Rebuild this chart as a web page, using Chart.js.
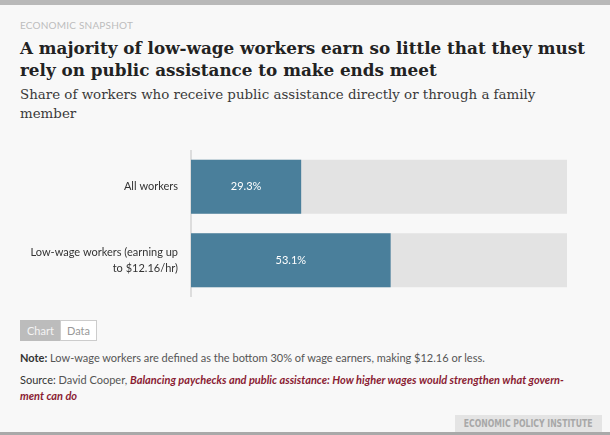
<!DOCTYPE html>
<html lang="en">
<head>
  <meta charset="UTF-8">
  <title>Public assistance share</title>
  <script src="https://cdn.jsdelivr.net/npm/chart.js"></script>
  <style>
    html, body { margin: 0; padding: 0; }
    body { width: 610px; height: 435px; background: #f8f8f8; position: relative; overflow: hidden; }
    .topbar { position: absolute; left: 0; top: 0; width: 610px; height: 5px; background: #b9b9b9; }
    .bottombar { position: absolute; left: 0; top: 432px; width: 610px; height: 3px; background: #a9a9a9; }
    .kicker { position: absolute; left: 20px; top: 19px; font: 10px "Lato", sans-serif; color: #bdbdbd; letter-spacing: 0.2px; }
    .title { position: absolute; left: 20px; top: 37px; width: 585px; font: bold 16.8px/22px "DejaVu Serif", serif; color: #222; }
    .subtitle { position: absolute; left: 20px; top: 85px; width: 560px; font: 13.4px/19px "DejaVu Serif", serif; color: #3a3a3a; }
    #wrap { position: absolute; left: 0; top: 150px; width: 567px; height: 147px; }
    .toggle { position: absolute; left: 20px; top: 320px; height: 21px; font: 11px/19px "Lato", sans-serif; }
    .toggle span { display: inline-block; height: 19px; padding: 0 6px; border: 1px solid #ccc; vertical-align: top; }
    .toggle .on { background: #bcbcbc; color: #f4f4f4; border-color: #bcbcbc; }
    .toggle .off { background: #fff; color: #999; margin-left: -1px; }
    .note { position: absolute; left: 20px; top: 350px; width: 580px; font: 11px/15px "Lato", sans-serif; color: #555; }
    .note b { color: #333; }
    .source { position: absolute; left: 20px; top: 372px; width: 580px; font: 11px/16px "Lato", sans-serif; color: #555; }
    .source .lbl { color: #333; }
    .source i { color: #8a1c33; font-weight: bold; }
    .logo { position: absolute; left: 455px; top: 415px; width: 147px; height: 17px; background: #e4e4e4; overflow: hidden; }
    .logo span { display: block; width: 170px; transform: scaleX(0.86); transform-origin: 0 0; color: #a8a8a8; font: bold 10px/17px "DejaVu Sans Condensed", sans-serif; text-align: center; white-space: nowrap; }
  </style>
</head>
<body>
<div class="topbar"></div>
<div class="kicker">ECONOMIC SNAPSHOT</div>
<div class="title">A majority of low-wage workers earn so little that they must rely on public assistance to make ends meet</div>
<div class="subtitle">Share of workers who receive public assistance directly or through a family member</div>
<div id="wrap"><canvas id="chart"></canvas></div>
<div class="toggle"><span class="on">Chart</span><span class="off">Data</span></div>
<div class="note"><b>Note:</b> Low-wage workers are defined as the bottom 30% of wage earners, making $12.16 or less.</div>
<div class="source"><span class="lbl">Source:</span> David Cooper, <i>Balancing paychecks and public assistance: How higher wages would strengthen what govern-<br>ment can do</i></div>
<div class="logo"><span>ECONOMIC POLICY INSTITUTE</span></div>
<div class="bottombar"></div>

<script>
  // chart values
  const categories = [['All workers'], ['Low-wage workers (earning up', 'to $12.16/hr)']];
  const shares = [29.3, 53.1];
  const fullScale = [100, 100];

  // white value text in the middle of each bar
  const centerLabels = {
    id: 'centerLabels',
    afterDatasetsDraw(chart) {
      const ctx = chart.ctx;
      const meta = chart.getDatasetMeta(0);
      ctx.save();
      ctx.fillStyle = '#ffffff';
      ctx.font = '11px Lato, sans-serif';
      ctx.textAlign = 'center';
      ctx.textBaseline = 'middle';
      meta.data.forEach((bar, i) => {
        ctx.fillText(shares[i].toFixed(1) + '%', (bar.x + bar.base) / 2, bar.y);
      });
      ctx.restore();
    }
  };

  new Chart(document.getElementById('chart'), {
    type: 'bar',
    data: {
      labels: categories,
      datasets: [
        {
          data: shares,
          backgroundColor: '#4a7f9b',
          grouped: false,
          barPercentage: 0.735,
          categoryPercentage: 1
        },
        {
          data: fullScale,
          backgroundColor: '#e3e3e3',
          grouped: false,
          barPercentage: 0.735,
          categoryPercentage: 1
        }
      ]
    },
    options: {
      indexAxis: 'y',
      responsive: true,
      maintainAspectRatio: false,
      animation: false,
      layout: { padding: 0 },
      plugins: {
        legend: { display: false },
        tooltip: { enabled: false }
      },
      scales: {
        x: { display: false, min: 0, max: 100 },
        y: {
          afterFit(scale) {
            // fixed gutter for the labels, no extra space above/below
            scale.width = 191;
            scale.paddingTop = 0;
            scale.paddingBottom = 0;
          },
          grid: { display: true, color: 'rgba(0,0,0,0)', drawTicks: false },
          border: { display: true, color: '#dddddd', width: 2 },
          ticks: {
            color: '#333',
            padding: 13,
            font: { family: 'Lato', size: 11, lineHeight: 1.45 }
          }
        }
      }
    },
    plugins: [centerLabels]
  });
</script>
</body>
</html>
